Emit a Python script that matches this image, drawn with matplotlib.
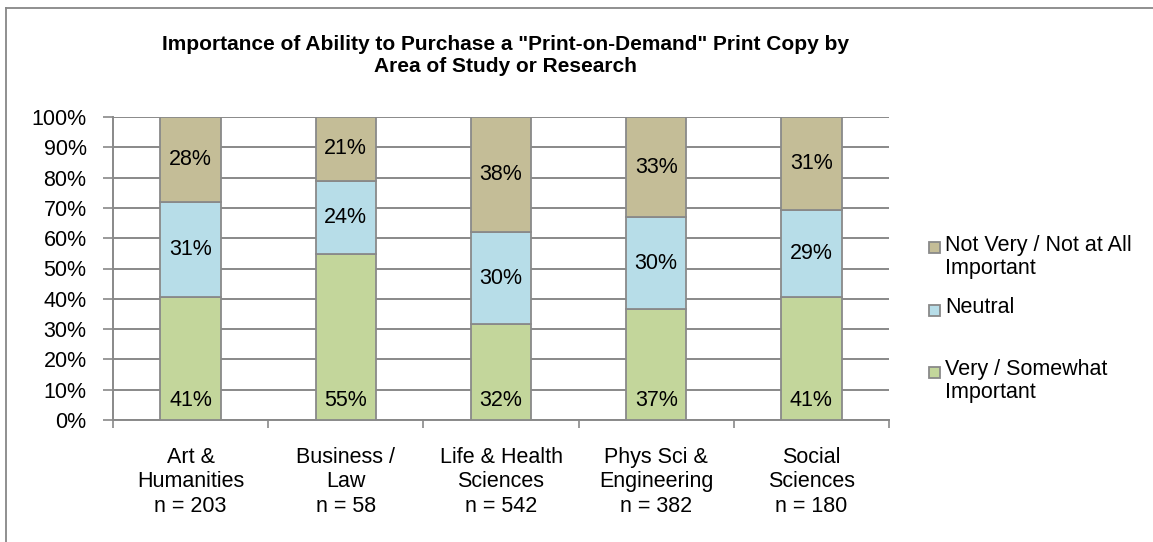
import matplotlib
matplotlib.use("Agg")
import matplotlib.pyplot as plt
from matplotlib.patches import Rectangle
from matplotlib.lines import Line2D
import numpy as np

plt.rcParams['font.family'] = ['Liberation Sans', 'DejaVu Sans']

categories = ["Art &\nHumanities\nn = 203", "Business /\nLaw\nn = 58",
              "Life & Health\nSciences\nn = 542", "Phys Sci &\nEngineering\nn = 382",
              "Social\nSciences\nn = 180"]
very_important = [40.7, 54.8, 31.8, 36.7, 40.6]
neutral = [31.1, 24.2, 30.1, 30.2, 28.7]
not_important = [28.2, 21.0, 38.1, 33.1, 30.7]
series_names = ["Very / Somewhat\nImportant", "Neutral", "Not Very / Not at All\nImportant"]
colors = ["#c3d69b", "#b7dde8", "#c4bd97"]
yticks = [0, 10, 20, 30, 40, 50, 60, 70, 80, 90, 100]
title = 'Importance of Ability to Purchase a "Print-on-Demand" Print Copy by\nArea of Study or Research'

W, H = 1153, 542
FS = 15.5
fig = plt.figure(figsize=(W / 100, H / 100), dpi=100)
ax = fig.add_axes([113 / W, 1 - 420 / H, (889 - 113) / W, (420 - 117) / H])

grid_c = "#898989"
x = np.arange(len(categories))
series = [very_important, neutral, not_important]
bottom = np.zeros(len(categories))
bw = 0.39
for i, (vals, col) in enumerate(zip(series, colors)):
    vals = np.array(vals)
    ax.bar(x, vals, bw, bottom=bottom, color=col, edgecolor=grid_c,
           linewidth=1.3, zorder=3)
    for xi, b, v in zip(x, bottom, vals):
        ypos = b + 6.5 if i == 0 else b + v / 2
        ax.text(xi, ypos, f"{v:.0f}%", ha="center", va="center", fontsize=FS,
                color="black", zorder=4)
    bottom += vals

ax.set_xlim(-0.5, len(categories) - 0.5)
ax.set_ylim(0, 100)
ax.set_yticks(yticks)
ax.set_yticklabels([f"{t}%" for t in yticks], fontsize=FS)
ax.yaxis.grid(True, color=grid_c, linewidth=1.4, zorder=0)
ax.set_axisbelow(True)
ax.tick_params(axis="y", length=7, width=1.2, color=grid_c, pad=12)

ax.set_xticks(np.arange(-0.5, len(categories), 1.0))
ax.set_xticklabels([])
ax.tick_params(axis="x", length=6, width=1.2, color=grid_c, direction="out")
for xi, lab in zip(x, categories):
    ax.text(xi, -9.0, lab, ha="center", va="top", fontsize=FS,
            linespacing=1.2, transform=ax.transData)

for s in ["top", "right"]:
    ax.spines[s].set_visible(False)
for s in ["left", "bottom"]:
    ax.spines[s].set_color(grid_c)
    ax.spines[s].set_linewidth(1.4)

fig.text(505 / W, 1 - 55 / H, title, ha="center", va="center", fontsize=15,
         fontweight="bold", linespacing=1.2)

# outer chart frame (left and top visible)
fig.add_artist(Line2D([6 / W, 6 / W], [0, 1 - 8 / H], transform=fig.transFigure,
                      color="#878787", linewidth=1.3))
fig.add_artist(Line2D([6 / W, 1], [1 - 8 / H, 1 - 8 / H], transform=fig.transFigure,
                      color="#878787", linewidth=1.3))

# legend (reversed order, equal slots)
leg_tops = [248, 310, 372]
for name, col, yc in zip(series_names[::-1], colors[::-1], leg_tops):
    fig.add_artist(Rectangle((929 / W, 1 - (yc + 5.5) / H), 11 / W, 11 / H,
                             transform=fig.transFigure, facecolor=col,
                             edgecolor=grid_c, linewidth=1.3))
    fig.text(945 / W, 1 - (yc - 13) / H, name, ha="left", va="top",
             fontsize=FS, linespacing=1.1)

fig.savefig("out.png", dpi=100, facecolor="white")
